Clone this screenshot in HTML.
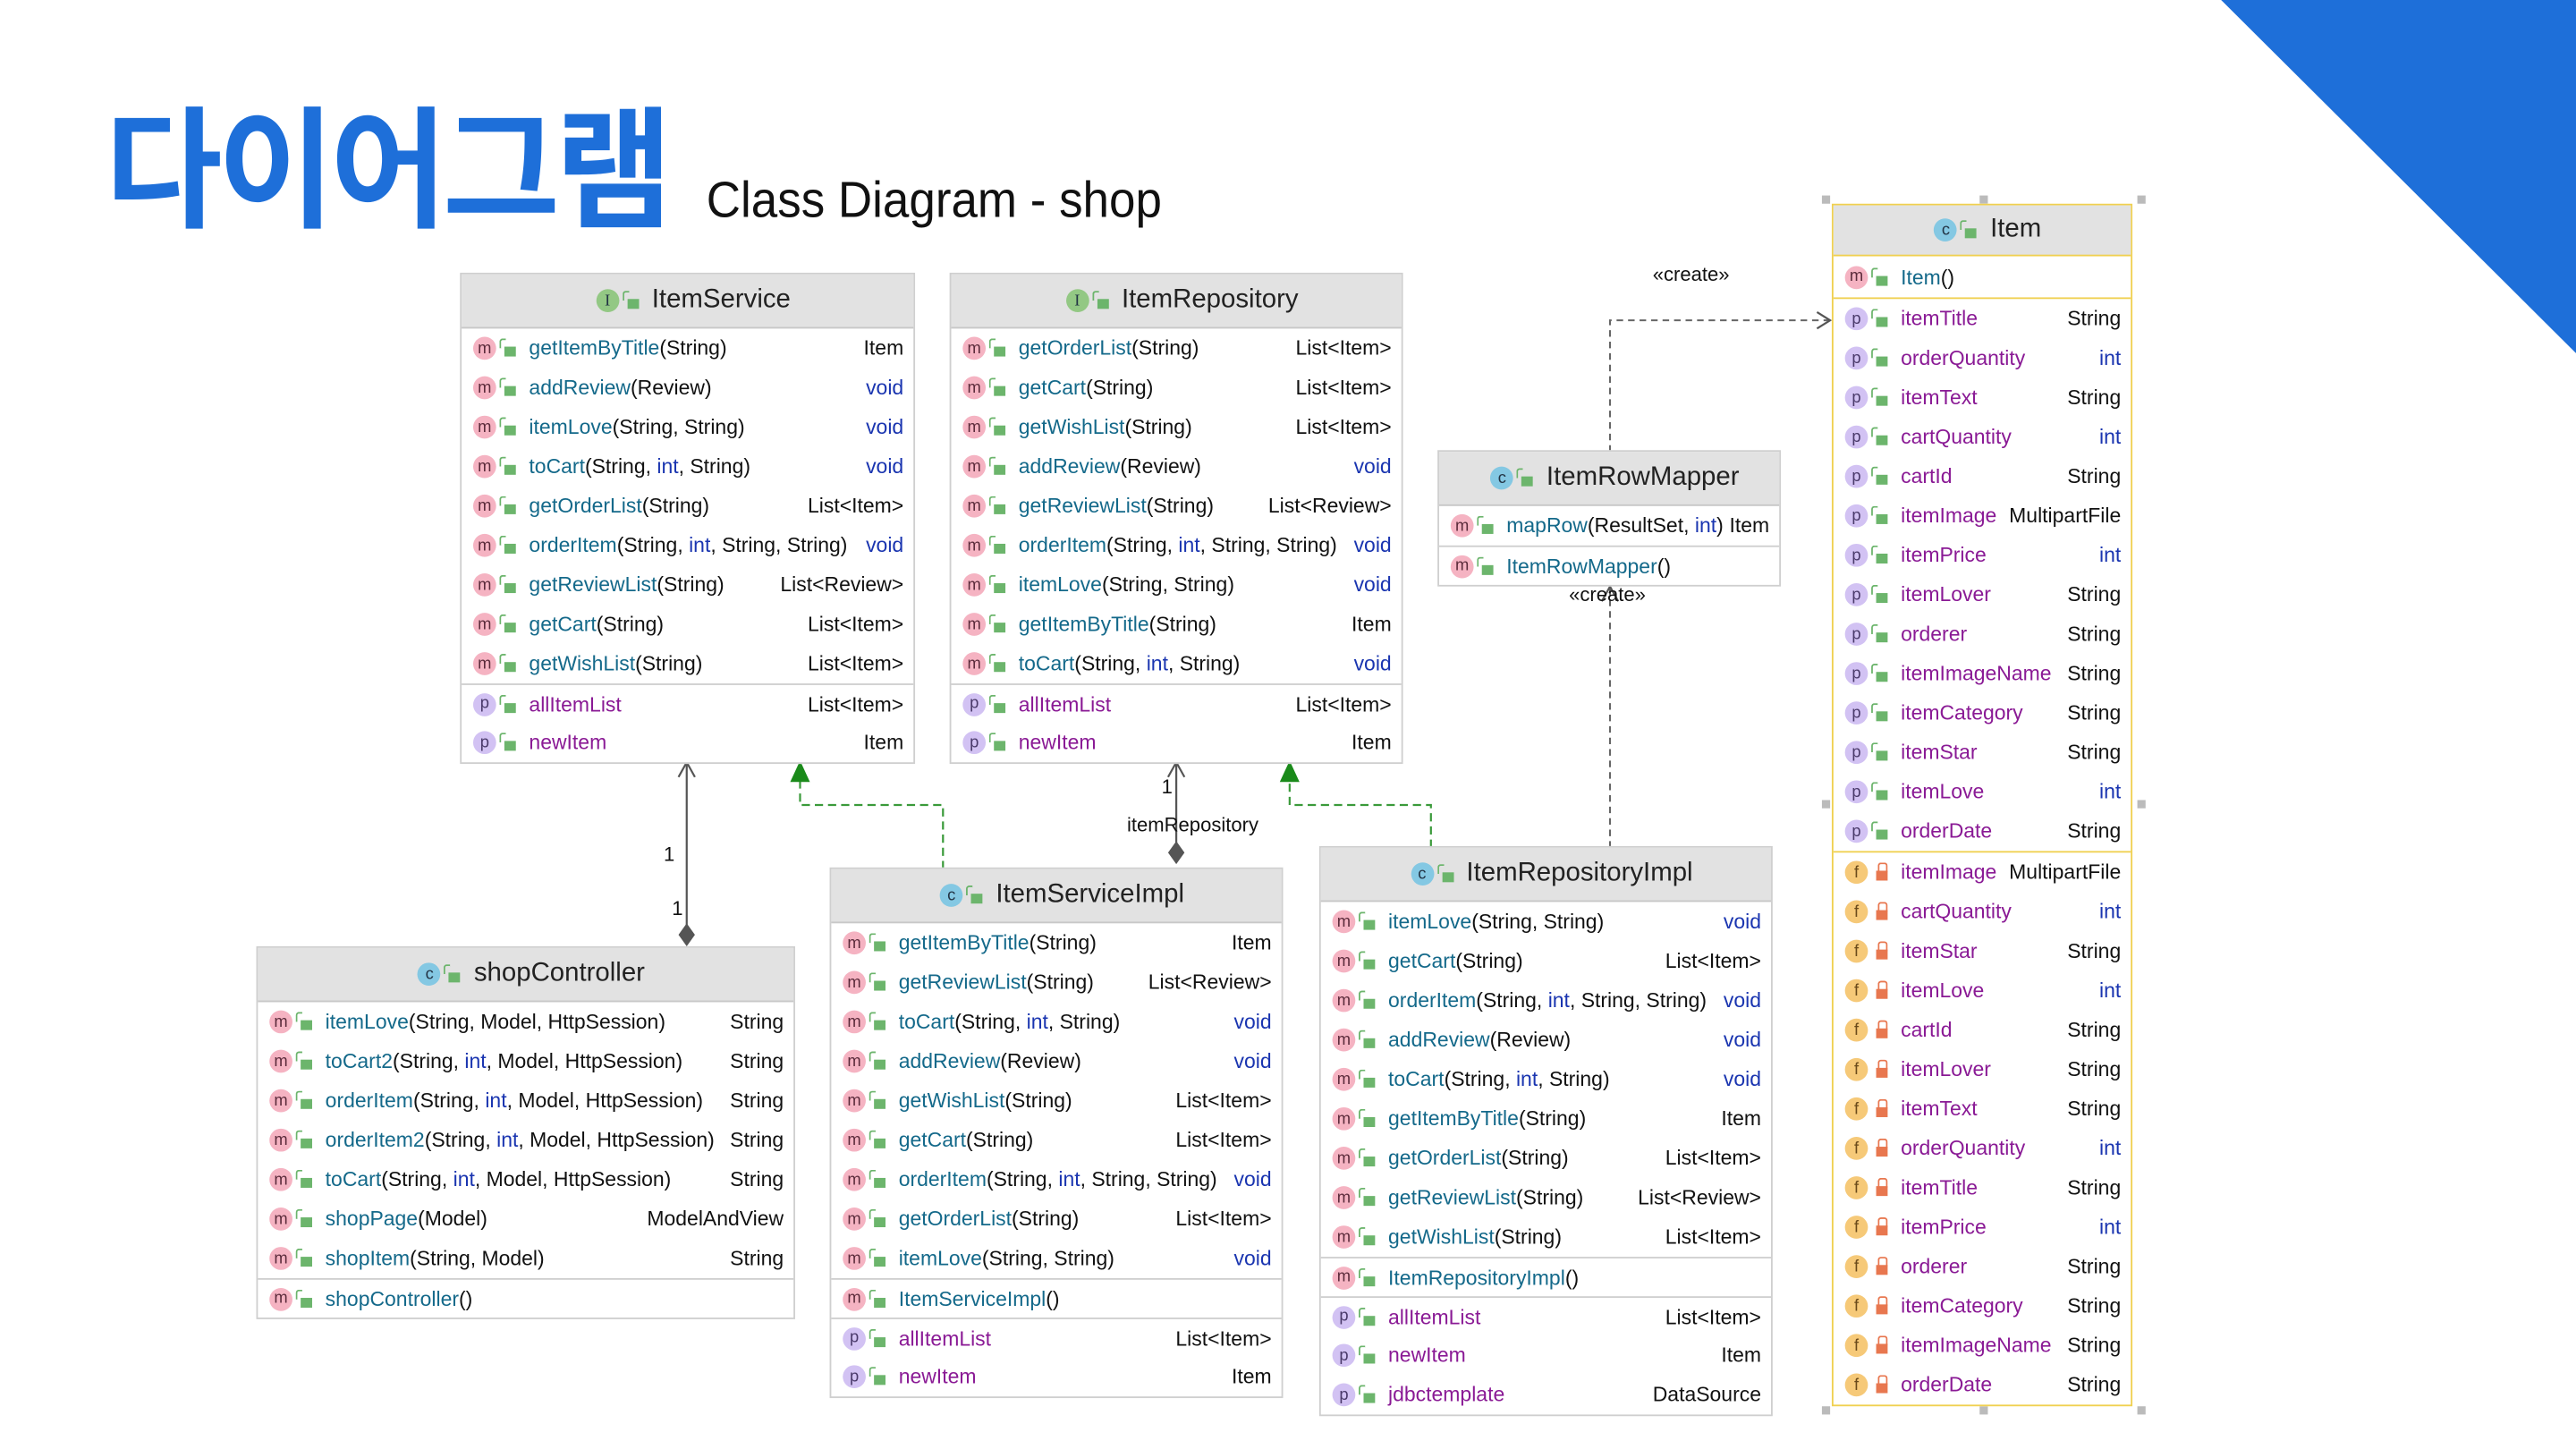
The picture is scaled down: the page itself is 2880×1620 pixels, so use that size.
<!DOCTYPE html>
<html><head><meta charset="utf-8"><style>
*{margin:0;padding:0;box-sizing:border-box}
body{width:2880px;height:1620px;overflow:hidden;background:#fff;font-family:"Liberation Sans","Noto Sans CJK KR",sans-serif}
#s{position:absolute;left:0;top:0;width:1568px;height:882px;transform:scale(1.83673);transform-origin:0 0}
.b{position:absolute;border:1px solid #cfcfcf;background:#fff}
.h{height:33px;background:#e2e2e2;border-bottom:1px solid #c8c8c8;display:flex;align-items:center;justify-content:center;font-size:16px;color:#222}
.r{height:24px;display:flex;align-items:center;font-size:12.5px;color:#111;padding-right:6px;white-space:nowrap}
.sep{border-top:1px solid #cfcfcf}
.ic{width:14px;height:14px;border-radius:50%;display:inline-flex;align-items:center;justify-content:center;font-size:10px;margin-left:7px;color:#5a2a3a;flex:none}
.m{background:#f5b3c2}.p{background:#d2c2f3;color:#4a3a6a}.f{background:#f6c978;color:#6a4a1a}
.c{background:#84c8e3;color:#234}.I{background:#93c884;color:#234;font-family:"Liberation Serif",serif}
.lk{width:7px;height:6px;background:#6cb56c;margin:4px 8px 0 5px;flex:none;position:relative}
.lk:before{content:"";position:absolute;left:-3px;top:-5px;width:3px;height:5px;border:1.5px solid #6cb56c;border-right:none;border-bottom:none;border-radius:2px 0 0 0}
.lr{background:#e8774f}.lr:before{border-color:#e8774f;left:1px;width:4px;border-right:1.5px solid #e8774f;border-radius:2px 2px 0 0}
.n{flex:1;color:#111}
.mn{color:#14698a}.fn{color:#8a1a95}
.t{color:#111}.kw{color:#1a35b0}
.lab{position:absolute;font-size:12px;color:#111}
.hs{position:absolute;width:5px;height:5px;background:#bbb}
</style></head><body><div id="s">
<svg width="1568" height="882" style="position:absolute;left:0;top:0">
<polygon points="1352,0 1568,0 1568,215" fill="#1e6fd9"/>
<g fill="none" stroke="#555" stroke-width="1.2">
<line x1="418" y1="464" x2="418" y2="566"/><polyline points="413,473 418,464 423,473"/>
<line x1="716" y1="464" x2="716" y2="514"/><polyline points="711,473 716,464 721,473"/>
</g>
<polygon points="418,562 423,569 418,576 413,569" fill="#555"/>
<polygon points="716,512 721,519 716,526 711,519" fill="#555"/>
<g fill="none" stroke="#3a9a3a" stroke-width="1.2" stroke-dasharray="5,3">
<polyline points="574,529 574,490 487,490 487,475"/>
<polyline points="871,516 871,490 785,490 785,475"/>
</g>
<polygon points="481,476 493,476 487,463" fill="#1a8a1a"/>
<polygon points="779,476 791,476 785,463" fill="#1a8a1a"/>
<g fill="none" stroke="#666" stroke-width="1.1" stroke-dasharray="4,3">
<polyline points="980,516 980,358"/>
<polyline points="980,275 980,195 1113,195"/>
</g>
<g fill="none" stroke="#555" stroke-width="1.2">
<polyline points="975,366 980,357 985,366"/>
<polyline points="1106,190 1114,195 1106,200"/>
</g>
</svg>
<div style="position:absolute;left:64px;top:40px;font-size:80px;font-weight:bold;color:#1e6fd9;letter-spacing:-3px;font-family:'Noto Sans CJK KR',sans-serif;transform:scaleX(0.97);transform-origin:0 0;white-space:nowrap">다이어그램</div>
<div style="position:absolute;left:430px;top:104px;font-size:31px;color:#111;transform:scaleX(0.93);transform-origin:0 0;white-space:nowrap">Class Diagram - shop</div>
<div class="lab" style="left:1006px;top:160px">«create»</div>
<div class="lab" style="left:955px;top:355px">«create»</div>
<div class="lab" style="left:386px;top:437px">itemService</div>
<div class="lab" style="left:404px;top:513px">1</div>
<div class="lab" style="left:409px;top:546px">1</div>
<div class="lab" style="left:707px;top:472px">1</div>
<div class="lab" style="left:686px;top:495px">itemRepository</div>

<div class="b" style="left:280px;top:166px;width:277px">
<div class="h"><span class="ic I">I</span><span class="lk"></span>ItemService</div>
<div class="r"><span class="ic m">m</span><span class="lk"></span><span class="n"><span class="mn">getItemByTitle</span>(String)</span><span class="t">Item</span></div>
<div class="r"><span class="ic m">m</span><span class="lk"></span><span class="n"><span class="mn">addReview</span>(Review)</span><span class="kw">void</span></div>
<div class="r"><span class="ic m">m</span><span class="lk"></span><span class="n"><span class="mn">itemLove</span>(String, String)</span><span class="kw">void</span></div>
<div class="r"><span class="ic m">m</span><span class="lk"></span><span class="n"><span class="mn">toCart</span>(String, <span class="kw">int</span>, String)</span><span class="kw">void</span></div>
<div class="r"><span class="ic m">m</span><span class="lk"></span><span class="n"><span class="mn">getOrderList</span>(String)</span><span class="t">List&lt;Item&gt;</span></div>
<div class="r"><span class="ic m">m</span><span class="lk"></span><span class="n"><span class="mn">orderItem</span>(String, <span class="kw">int</span>, String, String)</span><span class="kw">void</span></div>
<div class="r"><span class="ic m">m</span><span class="lk"></span><span class="n"><span class="mn">getReviewList</span>(String)</span><span class="t">List&lt;Review&gt;</span></div>
<div class="r"><span class="ic m">m</span><span class="lk"></span><span class="n"><span class="mn">getCart</span>(String)</span><span class="t">List&lt;Item&gt;</span></div>
<div class="r"><span class="ic m">m</span><span class="lk"></span><span class="n"><span class="mn">getWishList</span>(String)</span><span class="t">List&lt;Item&gt;</span></div>
<div class="r sep"><span class="ic p">p</span><span class="lk"></span><span class="n fn">allItemList</span><span class="t">List&lt;Item&gt;</span></div>
<div class="r"><span class="ic p">p</span><span class="lk"></span><span class="n fn">newItem</span><span class="t">Item</span></div>
</div>

<div class="b" style="left:578px;top:166px;width:276px">
<div class="h"><span class="ic I">I</span><span class="lk"></span>ItemRepository</div>
<div class="r"><span class="ic m">m</span><span class="lk"></span><span class="n"><span class="mn">getOrderList</span>(String)</span><span class="t">List&lt;Item&gt;</span></div>
<div class="r"><span class="ic m">m</span><span class="lk"></span><span class="n"><span class="mn">getCart</span>(String)</span><span class="t">List&lt;Item&gt;</span></div>
<div class="r"><span class="ic m">m</span><span class="lk"></span><span class="n"><span class="mn">getWishList</span>(String)</span><span class="t">List&lt;Item&gt;</span></div>
<div class="r"><span class="ic m">m</span><span class="lk"></span><span class="n"><span class="mn">addReview</span>(Review)</span><span class="kw">void</span></div>
<div class="r"><span class="ic m">m</span><span class="lk"></span><span class="n"><span class="mn">getReviewList</span>(String)</span><span class="t">List&lt;Review&gt;</span></div>
<div class="r"><span class="ic m">m</span><span class="lk"></span><span class="n"><span class="mn">orderItem</span>(String, <span class="kw">int</span>, String, String)</span><span class="kw">void</span></div>
<div class="r"><span class="ic m">m</span><span class="lk"></span><span class="n"><span class="mn">itemLove</span>(String, String)</span><span class="kw">void</span></div>
<div class="r"><span class="ic m">m</span><span class="lk"></span><span class="n"><span class="mn">getItemByTitle</span>(String)</span><span class="t">Item</span></div>
<div class="r"><span class="ic m">m</span><span class="lk"></span><span class="n"><span class="mn">toCart</span>(String, <span class="kw">int</span>, String)</span><span class="kw">void</span></div>
<div class="r sep"><span class="ic p">p</span><span class="lk"></span><span class="n fn">allItemList</span><span class="t">List&lt;Item&gt;</span></div>
<div class="r"><span class="ic p">p</span><span class="lk"></span><span class="n fn">newItem</span><span class="t">Item</span></div>
</div>

<div class="b" style="left:875px;top:274px;width:209px">
<div class="h"><span class="ic c">c</span><span class="lk"></span>ItemRowMapper</div>
<div class="r"><span class="ic m">m</span><span class="lk"></span><span class="n"><span class="mn">mapRow</span>(ResultSet, <span class="kw">int</span>)</span><span class="t">Item</span></div>
<div class="r sep"><span class="ic m">m</span><span class="lk"></span><span class="n"><span class="mn">ItemRowMapper</span>()</span></div>
</div>

<div class="b" style="left:156px;top:576px;width:328px">
<div class="h"><span class="ic c">c</span><span class="lk"></span>shopController</div>
<div class="r"><span class="ic m">m</span><span class="lk"></span><span class="n"><span class="mn">itemLove</span>(String, Model, HttpSession)</span><span class="t">String</span></div>
<div class="r"><span class="ic m">m</span><span class="lk"></span><span class="n"><span class="mn">toCart2</span>(String, <span class="kw">int</span>, Model, HttpSession)</span><span class="t">String</span></div>
<div class="r"><span class="ic m">m</span><span class="lk"></span><span class="n"><span class="mn">orderItem</span>(String, <span class="kw">int</span>, Model, HttpSession)</span><span class="t">String</span></div>
<div class="r"><span class="ic m">m</span><span class="lk"></span><span class="n"><span class="mn">orderItem2</span>(String, <span class="kw">int</span>, Model, HttpSession)</span><span class="t">String</span></div>
<div class="r"><span class="ic m">m</span><span class="lk"></span><span class="n"><span class="mn">toCart</span>(String, <span class="kw">int</span>, Model, HttpSession)</span><span class="t">String</span></div>
<div class="r"><span class="ic m">m</span><span class="lk"></span><span class="n"><span class="mn">shopPage</span>(Model)</span><span class="t">ModelAndView</span></div>
<div class="r"><span class="ic m">m</span><span class="lk"></span><span class="n"><span class="mn">shopItem</span>(String, Model)</span><span class="t">String</span></div>
<div class="r sep"><span class="ic m">m</span><span class="lk"></span><span class="n"><span class="mn">shopController</span>()</span></div>
</div>

<div class="b" style="left:505px;top:528px;width:276px">
<div class="h"><span class="ic c">c</span><span class="lk"></span>ItemServiceImpl</div>
<div class="r"><span class="ic m">m</span><span class="lk"></span><span class="n"><span class="mn">getItemByTitle</span>(String)</span><span class="t">Item</span></div>
<div class="r"><span class="ic m">m</span><span class="lk"></span><span class="n"><span class="mn">getReviewList</span>(String)</span><span class="t">List&lt;Review&gt;</span></div>
<div class="r"><span class="ic m">m</span><span class="lk"></span><span class="n"><span class="mn">toCart</span>(String, <span class="kw">int</span>, String)</span><span class="kw">void</span></div>
<div class="r"><span class="ic m">m</span><span class="lk"></span><span class="n"><span class="mn">addReview</span>(Review)</span><span class="kw">void</span></div>
<div class="r"><span class="ic m">m</span><span class="lk"></span><span class="n"><span class="mn">getWishList</span>(String)</span><span class="t">List&lt;Item&gt;</span></div>
<div class="r"><span class="ic m">m</span><span class="lk"></span><span class="n"><span class="mn">getCart</span>(String)</span><span class="t">List&lt;Item&gt;</span></div>
<div class="r"><span class="ic m">m</span><span class="lk"></span><span class="n"><span class="mn">orderItem</span>(String, <span class="kw">int</span>, String, String)</span><span class="kw">void</span></div>
<div class="r"><span class="ic m">m</span><span class="lk"></span><span class="n"><span class="mn">getOrderList</span>(String)</span><span class="t">List&lt;Item&gt;</span></div>
<div class="r"><span class="ic m">m</span><span class="lk"></span><span class="n"><span class="mn">itemLove</span>(String, String)</span><span class="kw">void</span></div>
<div class="r sep"><span class="ic m">m</span><span class="lk"></span><span class="n"><span class="mn">ItemServiceImpl</span>()</span></div>
<div class="r sep"><span class="ic p">p</span><span class="lk"></span><span class="n fn">allItemList</span><span class="t">List&lt;Item&gt;</span></div>
<div class="r"><span class="ic p">p</span><span class="lk"></span><span class="n fn">newItem</span><span class="t">Item</span></div>
</div>

<div class="b" style="left:803px;top:515px;width:276px">
<div class="h"><span class="ic c">c</span><span class="lk"></span>ItemRepositoryImpl</div>
<div class="r"><span class="ic m">m</span><span class="lk"></span><span class="n"><span class="mn">itemLove</span>(String, String)</span><span class="kw">void</span></div>
<div class="r"><span class="ic m">m</span><span class="lk"></span><span class="n"><span class="mn">getCart</span>(String)</span><span class="t">List&lt;Item&gt;</span></div>
<div class="r"><span class="ic m">m</span><span class="lk"></span><span class="n"><span class="mn">orderItem</span>(String, <span class="kw">int</span>, String, String)</span><span class="kw">void</span></div>
<div class="r"><span class="ic m">m</span><span class="lk"></span><span class="n"><span class="mn">addReview</span>(Review)</span><span class="kw">void</span></div>
<div class="r"><span class="ic m">m</span><span class="lk"></span><span class="n"><span class="mn">toCart</span>(String, <span class="kw">int</span>, String)</span><span class="kw">void</span></div>
<div class="r"><span class="ic m">m</span><span class="lk"></span><span class="n"><span class="mn">getItemByTitle</span>(String)</span><span class="t">Item</span></div>
<div class="r"><span class="ic m">m</span><span class="lk"></span><span class="n"><span class="mn">getOrderList</span>(String)</span><span class="t">List&lt;Item&gt;</span></div>
<div class="r"><span class="ic m">m</span><span class="lk"></span><span class="n"><span class="mn">getReviewList</span>(String)</span><span class="t">List&lt;Review&gt;</span></div>
<div class="r"><span class="ic m">m</span><span class="lk"></span><span class="n"><span class="mn">getWishList</span>(String)</span><span class="t">List&lt;Item&gt;</span></div>
<div class="r sep"><span class="ic m">m</span><span class="lk"></span><span class="n"><span class="mn">ItemRepositoryImpl</span>()</span></div>
<div class="r sep"><span class="ic p">p</span><span class="lk"></span><span class="n fn">allItemList</span><span class="t">List&lt;Item&gt;</span></div>
<div class="r"><span class="ic p">p</span><span class="lk"></span><span class="n fn">newItem</span><span class="t">Item</span></div>
<div class="r"><span class="ic p">p</span><span class="lk"></span><span class="n fn">jdbctemplate</span><span class="t">DataSource</span></div>
</div>

<div class="hs" style="left:1109px;top:119px"></div><div class="hs" style="left:1205px;top:119px"></div><div class="hs" style="left:1301px;top:119px"></div>
<div class="hs" style="left:1109px;top:487px"></div><div class="hs" style="left:1301px;top:487px"></div>
<div class="hs" style="left:1109px;top:856px"></div><div class="hs" style="left:1205px;top:856px"></div><div class="hs" style="left:1301px;top:856px"></div>

<div class="b" style="left:1115px;top:124px;width:183px;border-color:#f0d050">
<div class="h" style="border-color:#f0d050;height:31px"><span class="ic c">c</span><span class="lk"></span>Item</div>
<div class="r" style="height:25px"><span class="ic m">m</span><span class="lk"></span><span class="n"><span class="mn">Item</span>()</span></div>
<div style="border-top:1px solid #f0d050">
<div class="r"><span class="ic p">p</span><span class="lk"></span><span class="n fn">itemTitle</span><span class="t">String</span></div>
<div class="r"><span class="ic p">p</span><span class="lk"></span><span class="n fn">orderQuantity</span><span class="kw">int</span></div>
<div class="r"><span class="ic p">p</span><span class="lk"></span><span class="n fn">itemText</span><span class="t">String</span></div>
<div class="r"><span class="ic p">p</span><span class="lk"></span><span class="n fn">cartQuantity</span><span class="kw">int</span></div>
<div class="r"><span class="ic p">p</span><span class="lk"></span><span class="n fn">cartId</span><span class="t">String</span></div>
<div class="r"><span class="ic p">p</span><span class="lk"></span><span class="n fn">itemImage</span><span class="t">MultipartFile</span></div>
<div class="r"><span class="ic p">p</span><span class="lk"></span><span class="n fn">itemPrice</span><span class="kw">int</span></div>
<div class="r"><span class="ic p">p</span><span class="lk"></span><span class="n fn">itemLover</span><span class="t">String</span></div>
<div class="r"><span class="ic p">p</span><span class="lk"></span><span class="n fn">orderer</span><span class="t">String</span></div>
<div class="r"><span class="ic p">p</span><span class="lk"></span><span class="n fn">itemImageName</span><span class="t">String</span></div>
<div class="r"><span class="ic p">p</span><span class="lk"></span><span class="n fn">itemCategory</span><span class="t">String</span></div>
<div class="r"><span class="ic p">p</span><span class="lk"></span><span class="n fn">itemStar</span><span class="t">String</span></div>
<div class="r"><span class="ic p">p</span><span class="lk"></span><span class="n fn">itemLove</span><span class="kw">int</span></div>
<div class="r"><span class="ic p">p</span><span class="lk"></span><span class="n fn">orderDate</span><span class="t">String</span></div>
</div>
<div style="border-top:1px solid #f0d050">
<div class="r"><span class="ic f">f</span><span class="lk lr"></span><span class="n fn">itemImage</span><span class="t">MultipartFile</span></div>
<div class="r"><span class="ic f">f</span><span class="lk lr"></span><span class="n fn">cartQuantity</span><span class="kw">int</span></div>
<div class="r"><span class="ic f">f</span><span class="lk lr"></span><span class="n fn">itemStar</span><span class="t">String</span></div>
<div class="r"><span class="ic f">f</span><span class="lk lr"></span><span class="n fn">itemLove</span><span class="kw">int</span></div>
<div class="r"><span class="ic f">f</span><span class="lk lr"></span><span class="n fn">cartId</span><span class="t">String</span></div>
<div class="r"><span class="ic f">f</span><span class="lk lr"></span><span class="n fn">itemLover</span><span class="t">String</span></div>
<div class="r"><span class="ic f">f</span><span class="lk lr"></span><span class="n fn">itemText</span><span class="t">String</span></div>
<div class="r"><span class="ic f">f</span><span class="lk lr"></span><span class="n fn">orderQuantity</span><span class="kw">int</span></div>
<div class="r"><span class="ic f">f</span><span class="lk lr"></span><span class="n fn">itemTitle</span><span class="t">String</span></div>
<div class="r"><span class="ic f">f</span><span class="lk lr"></span><span class="n fn">itemPrice</span><span class="kw">int</span></div>
<div class="r"><span class="ic f">f</span><span class="lk lr"></span><span class="n fn">orderer</span><span class="t">String</span></div>
<div class="r"><span class="ic f">f</span><span class="lk lr"></span><span class="n fn">itemCategory</span><span class="t">String</span></div>
<div class="r"><span class="ic f">f</span><span class="lk lr"></span><span class="n fn">itemImageName</span><span class="t">String</span></div>
<div class="r"><span class="ic f">f</span><span class="lk lr"></span><span class="n fn">orderDate</span><span class="t">String</span></div>
</div>
</div>
</div></body></html>
